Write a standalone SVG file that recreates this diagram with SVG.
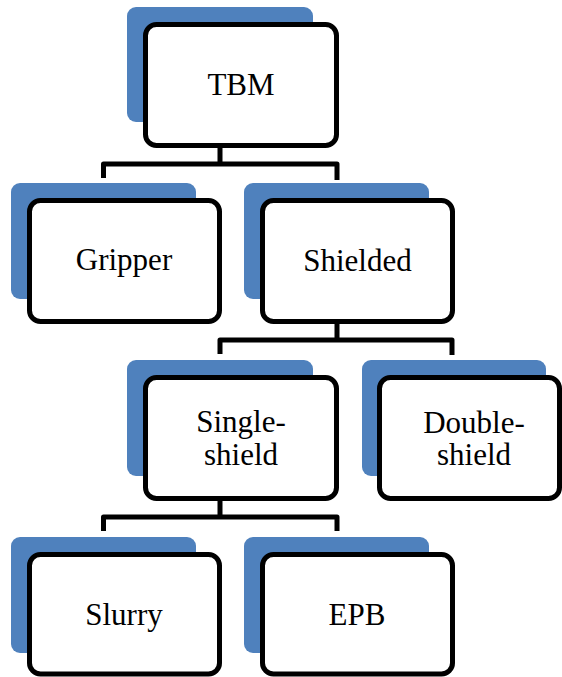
<svg xmlns="http://www.w3.org/2000/svg" width="562" height="677" viewBox="0 0 562 677">
<style>
.bg{fill:#4F81BD}
.box{fill:#fff;stroke:#000;stroke-width:5}
.lbl{font-family:"Liberation Serif","Times New Roman",serif;font-size:31px;fill:#000;text-anchor:middle}
.conn{fill:none;stroke:#000;stroke-width:5;stroke-linejoin:round}
</style>
<rect width="562" height="677" fill="#fff"/>
<g id="connectors">
<path class="conn" d="M220,148 V164 M103.5,178 V164 H337 V180"/>
<path class="conn" d="M337,324 V340 M220,354 V340 H452 V355"/>
<path class="conn" d="M220,500 V517 M103.5,531 V517 H337 V531"/>
</g>
<g id="tbm">
<rect class="bg" x="127" y="7" width="186" height="115" rx="9"/>
<rect class="box" x="145.5" y="24.5" width="191" height="121" rx="11"/>
<text class="lbl" x="241" y="95">TBM</text>
</g>
<g id="gripper">
<rect class="bg" x="11" y="183" width="185" height="116" rx="9"/>
<rect class="box" x="29.5" y="200.5" width="190" height="121" rx="11"/>
<text class="lbl" x="124" y="270">Gripper</text>
</g>
<g id="shielded">
<rect class="bg" x="244" y="183" width="185" height="116" rx="9"/>
<rect class="box" x="262.5" y="200.5" width="190" height="121" rx="11"/>
<text class="lbl" x="357.5" y="271">Shielded</text>
</g>
<g id="single-shield">
<rect class="bg" x="127" y="360" width="186" height="116" rx="9"/>
<rect class="box" x="145.5" y="377.5" width="191" height="121" rx="11"/>
<text class="lbl" x="241" y="432">Single-</text>
<text class="lbl" x="241" y="465">shield</text>
</g>
<g id="double-shield">
<rect class="bg" x="362" y="360" width="184" height="116" rx="9"/>
<rect class="box" x="379.5" y="377.5" width="180" height="121" rx="11"/>
<text class="lbl" x="474" y="433">Double-</text>
<text class="lbl" x="474" y="465">shield</text>
</g>
<g id="slurry">
<rect class="bg" x="11" y="537" width="185" height="116" rx="9"/>
<rect class="box" x="29.5" y="554.5" width="190" height="119.5" rx="11"/>
<text class="lbl" x="124" y="625">Slurry</text>
</g>
<g id="epb">
<rect class="bg" x="244" y="537" width="185" height="116" rx="9"/>
<rect class="box" x="262.5" y="554.5" width="190" height="119.5" rx="11"/>
<text class="lbl" x="357" y="625">EPB</text>
</g>
</svg>
